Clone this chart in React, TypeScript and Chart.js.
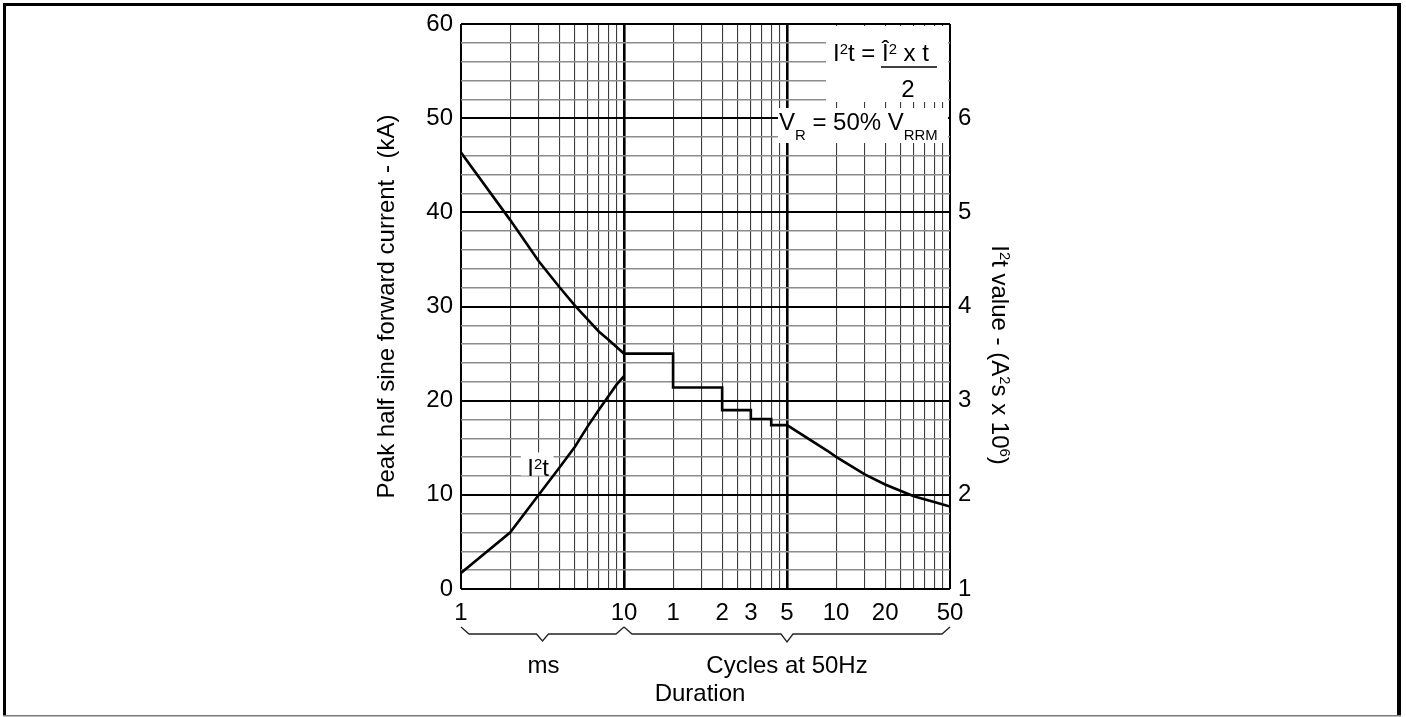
import React, { useEffect, useRef } from 'react';
import { Chart, registerables } from 'chart.js';

Chart.register(...registerables);

// ---- data (durations in ms; 1 cycle at 50 Hz = 20 ms) ----
const msDurations = [1, 2, 3, 4, 5, 6, 7, 8, 9, 10];
const msPeakKA = [46.35, 39.2, 34.8, 32.1, 30.1, 28.6, 27.35, 26.5, 25.7, 25.0];
const cycleStepMs = [10, 20, 20, 40, 40, 60, 60, 80, 80, 100];
const cycleStepKA = [25.0, 25.0, 21.4, 21.4, 19.0, 19.0, 18.05, 18.05, 17.4, 17.4];
const longMs = [100, 178, 200, 300, 400, 500, 600, 800, 1000];
const longKA = [17.4, 14.65, 14.04, 12.17, 11.1, 10.4, 9.85, 9.25, 8.75];
const i2tMs = [1, 2, 3, 4, 5, 6, 7, 8, 9, 10];
const i2tValue = [1.17, 1.6, 2.0, 2.285, 2.51, 2.73, 2.9, 3.045, 3.17, 3.26];

// ---- axis ticks ----
const xGridMs = [1, 2, 3, 4, 5, 6, 7, 8, 9, 10, 20, 30, 40, 50, 60, 70, 80, 90, 100, 200, 300, 400, 500, 600, 700, 800, 900, 1000];
const xMajorMs = [1, 10, 100, 1000];
const xLabelMs = [1, 10, 20, 40, 60, 100, 200, 400, 1000];
const xLabelText = ['1', '10', '1', '2', '3', '5', '10', '20', '50'];
const leftLabels = [0, 10, 20, 30, 40, 50, 60];
const rightLabels = [1, 2, 3, 4, 5, 6];

const FAMILY = '"Liberation Sans", Arial, Helvetica, sans-serif';
const FS = 24;
const fontStr = (size: number) => `${size}px ${FAMILY}`;

type Part = { t: string; s?: 'sup' | 'sub' };

function partSize(p: Part, size: number) {
  return p.s ? size * 0.62 : size;
}

function measureParts(ctx: CanvasRenderingContext2D, parts: Part[], size: number) {
  let w = 0;
  for (const p of parts) {
    ctx.font = fontStr(partSize(p, size));
    w += ctx.measureText(p.t).width;
  }
  return w;
}

function drawParts(
  ctx: CanvasRenderingContext2D,
  parts: Part[],
  x: number,
  y: number,
  size: number,
  align: 'left' | 'center'
) {
  const w = measureParts(ctx, parts, size);
  let cx = align === 'center' ? x - w / 2 : x;
  ctx.textAlign = 'left';
  ctx.textBaseline = 'alphabetic';
  for (const p of parts) {
    const sz = partSize(p, size);
    ctx.font = fontStr(sz);
    const dy = p.s === 'sup' ? -size * 0.3 : p.s === 'sub' ? size * 0.42 : 0;
    ctx.fillText(p.t, cx, y + dy);
    cx += ctx.measureText(p.t).width;
  }
}

function brace(
  ctx: CanvasRenderingContext2D,
  x0: number,
  x1: number,
  yTop: number,
  yMid: number,
  yTip: number
) {
  const m = (x0 + x1) / 2;
  const endDx = 8;
  const tipDx = 6;
  ctx.beginPath();
  ctx.moveTo(x0, yTop);
  ctx.lineTo(x0 + endDx, yMid);
  ctx.lineTo(m - tipDx, yMid);
  ctx.lineTo(m, yTip);
  ctx.lineTo(m + tipDx, yMid);
  ctx.lineTo(x1 - endDx, yMid);
  ctx.lineTo(x1, yTop);
  ctx.stroke();
}

const annotations = {
  id: 'annotations',
  beforeDatasetsDraw(chart: any) {
    const ctx: CanvasRenderingContext2D = chart.ctx;
    const ca = chart.chartArea;
    const xs = chart.scales.x;
    const ys = chart.scales.y;
    ctx.save();
    // white label backgrounds over the grid
    ctx.fillStyle = '#fff';
    ctx.fillRect(ca.right - 124, ca.top + 2, 122, 76);
    ctx.fillRect(ca.right - 172, ca.top + 84, 170, 35);
    const lx0 = xs.getPixelForValue(2.33);
    const lx1 = xs.getPixelForValue(3.7);
    const ly0 = ys.getPixelForValue(14.5);
    const ly1 = ys.getPixelForValue(12.05);
    ctx.fillRect(lx0, ly0, lx1 - lx0, ly1 - ly0);

    ctx.fillStyle = '#000';
    // formula
    drawParts(
      ctx,
      [{ t: 'I' }, { t: '2', s: 'sup' }, { t: 't = Î' }, { t: '2', s: 'sup' }, { t: ' x t' }],
      ca.right - 117,
      ca.top + 37,
      FS,
      'left'
    );
    ctx.strokeStyle = '#000';
    ctx.lineWidth = 1.5;
    ctx.beginPath();
    ctx.moveTo(ca.right - 69, ca.top + 43);
    ctx.lineTo(ca.right - 13, ca.top + 43);
    ctx.stroke();
    drawParts(ctx, [{ t: '2' }], ca.right - 42, ca.top + 73, FS, 'center');
    // reverse voltage condition
    drawParts(
      ctx,
      [{ t: 'V' }, { t: 'R', s: 'sub' }, { t: ' = 50% V' }, { t: 'RRM', s: 'sub' }],
      ca.right - 171,
      ca.top + 106,
      FS,
      'left'
    );
    // I2t curve label
    drawParts(
      ctx,
      [{ t: 'I' }, { t: '2', s: 'sup' }, { t: 't' }],
      xs.getPixelForValue(2.55),
      ys.getPixelForValue(12.0),
      FS,
      'left'
    );
    ctx.restore();
  },
  afterDraw(chart: any) {
    const ctx: CanvasRenderingContext2D = chart.ctx;
    const ca = chart.chartArea;
    const xs = chart.scales.x;
    ctx.save();
    ctx.fillStyle = '#000';
    // axis titles
    ctx.save();
    ctx.translate(ca.left - 76, (ca.top + ca.bottom) / 2);
    ctx.rotate(-Math.PI / 2);
    drawParts(ctx, [{ t: 'Peak half sine forward current - (kA)' }], 0, FS * 0.36, FS, 'center');
    ctx.restore();

    ctx.save();
    ctx.translate(ca.right + 51, ca.top + 331);
    ctx.rotate(Math.PI / 2);
    drawParts(
      ctx,
      [
        { t: 'I' },
        { t: '2', s: 'sup' },
        { t: 't value - (A' },
        { t: '2', s: 'sup' },
        { t: 's x 10' },
        { t: '6', s: 'sup' },
        { t: ')' },
      ],
      0,
      FS * 0.36,
      FS,
      'center'
    );
    ctx.restore();

    // braces under the x axis
    const p1 = xs.getPixelForValue(1);
    const p10 = xs.getPixelForValue(10);
    const p1000 = xs.getPixelForValue(1000);
    ctx.strokeStyle = '#222';
    ctx.lineWidth = 1.3;
    brace(ctx, p1, p10, ca.bottom + 38, ca.bottom + 45, ca.bottom + 52);
    brace(ctx, p10, p1000, ca.bottom + 38, ca.bottom + 45, ca.bottom + 53);

    drawParts(ctx, [{ t: 'ms' }], (p1 + p10) / 2 + 1, ca.bottom + 84, FS, 'center');
    drawParts(ctx, [{ t: 'Cycles at 50Hz' }], (p10 + p1000) / 2, ca.bottom + 84, FS, 'center');
    drawParts(ctx, [{ t: 'Duration' }], 700, ca.bottom + 112, FS, 'center');

    // outer frame
    ctx.fillStyle = '#000';
    ctx.fillRect(3, 3, 3, 712);
    ctx.fillRect(3, 3, 1398, 3);
    ctx.fillRect(1397, 3, 4, 712);
    ctx.fillStyle = '#7a7a7a';
    ctx.fillRect(3, 715, 1398, 1.5);
    ctx.restore();
  },
};

export default function App() {
  const ref = useRef<HTMLCanvasElement | null>(null);

  useEffect(() => {
    document.body.style.margin = '0';
    const canvas = ref.current;
    if (!canvas) return;

    const peakData = [
      ...msDurations.map((x, i) => ({ x, y: msPeakKA[i] })),
      ...cycleStepMs.map((x, i) => ({ x, y: cycleStepKA[i] })),
      ...longMs.map((x, i) => ({ x, y: longKA[i] })),
    ];
    const i2tData = i2tMs.map((x, i) => ({ x, y: i2tValue[i] }));

    const chart = new Chart(canvas, {
      type: 'line',
      data: {
        datasets: [
          {
            label: 'Peak half sine forward current',
            data: peakData,
            yAxisID: 'y',
            borderColor: '#000',
            borderWidth: 2.6,
            pointRadius: 0,
            tension: 0,
            fill: false,
          },
          {
            label: 'I²t',
            data: i2tData,
            yAxisID: 'y2',
            borderColor: '#000',
            borderWidth: 2.6,
            pointRadius: 0,
            tension: 0,
            fill: false,
          },
        ],
      },
      options: {
        responsive: false,
        animation: false,
        layout: { padding: { left: 361, right: 356, top: 24, bottom: 0 } },
        plugins: {
          legend: { display: false },
          tooltip: { enabled: false },
        },
        scales: {
          x: {
            type: 'logarithmic',
            min: 1,
            max: 1000,
            afterBuildTicks: (s: any) => {
              s.ticks = xGridMs.map((v) => ({ value: v }));
            },
            afterFit: (s: any) => {
              s.height = 128;
            },
            ticks: {
              autoSkip: false,
              maxRotation: 0,
              minRotation: 0,
              padding: 10,
              color: '#000',
              font: { family: FAMILY, size: FS },
              callback: (v: any) => {
                const i = xLabelMs.indexOf(Number(v));
                return i >= 0 ? xLabelText[i] : '';
              },
            },
            grid: {
              drawTicks: false,
              color: (c: any) => {
                const v = c.tick && c.tick.value;
                return xMajorMs.includes(v) ? '#000' : '#3c3c3c';
              },
              lineWidth: (c: any) => {
                const v = c.tick && c.tick.value;
                if (v === 10 || v === 100) return 2.6;
                return xMajorMs.includes(v) ? 2 : 1.1;
              },
            },
            border: { display: false },
          },
          y: {
            type: 'linear',
            position: 'left',
            min: 0,
            max: 60,
            afterFit: (s: any) => {
              s.width = 100;
            },
            ticks: {
              stepSize: 2,
              autoSkip: false,
              padding: 8,
              color: '#000',
              font: { family: FAMILY, size: FS },
              callback: (v: any) => (leftLabels.includes(Number(v)) ? String(v) : ''),
            },
            grid: {
              drawTicks: false,
              color: (c: any) => {
                const v = c.tick && c.tick.value;
                return leftLabels.includes(v) ? '#000' : '#8c8c8c';
              },
              lineWidth: (c: any) => {
                const v = c.tick && c.tick.value;
                return leftLabels.includes(v) ? 2 : 1.5;
              },
            },
            border: { display: false },
          },
          y2: {
            type: 'linear',
            position: 'right',
            min: 1,
            max: 7,
            afterFit: (s: any) => {
              s.width = 100;
            },
            ticks: {
              stepSize: 1,
              autoSkip: false,
              padding: 8,
              color: '#000',
              font: { family: FAMILY, size: FS },
              callback: (v: any) => (rightLabels.includes(Number(v)) ? String(v) : ''),
            },
            grid: { display: false, drawTicks: false },
            border: { display: false },
          },
        },
      },
      plugins: [annotations],
    } as any);

    return () => chart.destroy();
  }, []);

  return (
    <div style={{ width: 1406, height: 717, background: '#fff', overflow: 'hidden' }}>
      <canvas ref={ref} width={1406} height={717} style={{ display: 'block', width: 1406, height: 717 }} />
    </div>
  );
}
